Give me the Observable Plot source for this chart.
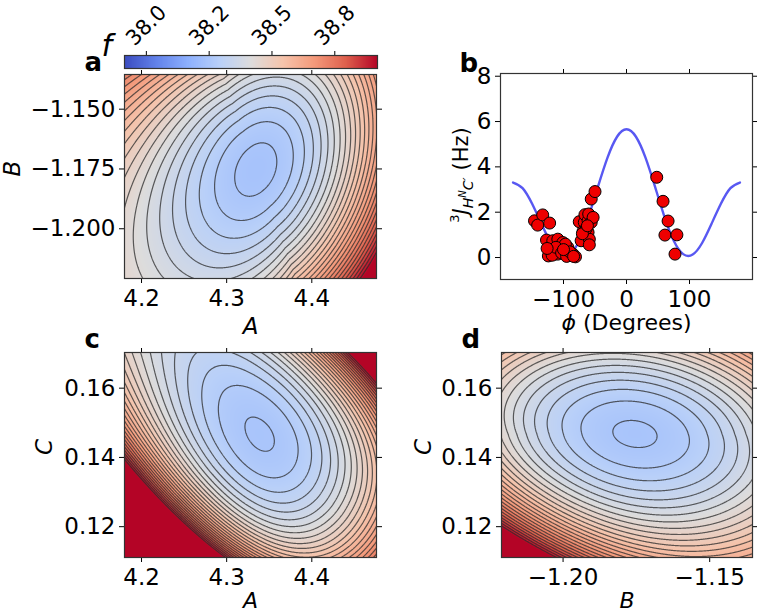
<!DOCTYPE html>
<html>
<head>
<meta charset="utf-8">
<script src="https://cdn.jsdelivr.net/npm/d3@7"></script>
<script src="https://cdn.jsdelivr.net/npm/@observablehq/plot@0.6"></script>
<style>
  body { margin: 0; background: #fff; }
  #fig { position: relative; width: 757px; height: 613px; font-family: "DejaVu Sans", sans-serif; }
  #fig svg { position: absolute; left: 0; top: 0; }
</style>
</head>
<body>
<div id="fig"></div>
<script>
// ---- objective scale f (shared colour bar) ----
const fRange = [37.913, 38.92];
const cbarTicks = [38.0, 38.25, 38.5, 38.75];
const cbarLabels = ["38.0", "38.2", "38.5", "38.8"];
const coolwarm = ["#3b4cc0", "#6282ea", "#8db0fe", "#b9d0f9", "#dddcdc", "#f5c4ac", "#f49a7b", "#de604d", "#b40426"];
const levelStep = 0.025;
const levels = d3.range(1, 41).map(k => 37.9 + k * levelStep);

// ---- Karplus parameter windows and ticks ----
const rangeA = [4.18, 4.476];
const rangeB = [-1.2208, -1.1355];
const rangeBd = [-1.221, -1.1354];
const rangeC = [0.1111, 0.1703];
const ticksA = [4.2, 4.3, 4.4];
const labelsA = ["4.2", "4.3", "4.4"];
const ticksB = [-1.2, -1.175, -1.15];
const labelsB = ["\u22121.200", "\u22121.175", "\u22121.150"];
const ticksBd = [-1.2, -1.15];
const labelsBd = ["\u22121.20", "\u22121.15"];
const ticksC = [0.12, 0.14, 0.16];
const labelsC = ["0.12", "0.14", "0.16"];

// ---- local shape of f on each two-parameter slice ----
// centre: [x at minimum, y at minimum, f at minimum]; span: unit lengths
// curv: [a, b, c] of a u^2 + 2 b u v + c v^2
// soft: damping direction; stiff: [dir u, dir v, strength -, strength +]; skew: [dir u, dir v, strength]
const centreAB = [4.335, -1.175, 38.239];
const spanAB = [0.148, 0.04265];
const curvAB = [18.3, -3.22, 7.27];
const softAB = [0.68, 0.2];
const stiffAB = [0.6, -0.8, 0, 0];
const skewAB = [1, 0, 0];

const centreAC = [4.339, 0.1466, 38.246];
const spanAC = [0.148, 0.0296];
const curvAC = [14.3, 4.2, 7.0];
const softAC = [0, 0];
const stiffAC = [0.707, 0.707, 10, 8];
const skewAC = [0.707, -0.707, 2.0];

const centreBC = [-1.1755, 0.1468, 38.245];
const spanBC = [0.04265, 0.0296];
const curvBC = [6.6, 1.5, 12];
const softBC = [0, 0.25];
const stiffBC = [0.6, 0.8, 3, 0];
const skewBC = [1, 0, 0];

// ---- 3J(HN,C') couplings against phi ----
const obsPhi = [-146, -141, -133, -122, -127, -124, -121, -117, -114, -109, -106, -101, -97, -93, -88, -97, -85, -81, -109, -118, -112, -103, -95, -90, -84, -126, -100,
  -75, -72, -69, -67, -66, -61, -61, -60, -59, -59, -56, -53, -56, -50, -64, -70, -62,
  48, 58, 66, 61, 80, 77];
const obsJ = [1.62, 1.43, 1.88, 1.52, 0.77, 0.07, 0.37, 0.74, 0.15, 0.81, 0.37, 0.66, 0.15, 0.44, 0.15, 0.59, 0.15, 0.03, 0.15, 0.1, 0.45, 0.2, 0.05, 0.25, 0.05, 0.4, 0.35,
  1.58, 0.74, 1.15, 1.55, 1.89, 1.62, 1.11, 1.92, 0.81, 0.56, 1.55, 1.77, 2.58, 2.91, 1.28, 1.05, 1.4,
  3.54, 2.48, 1.61, 0.99, 1.0, 0.15];
const curvePhi = [-180, -165, -150, -135, -120, -105, -90, -75, -60, -45, -30, -15, 0, 15, 30, 45, 60, 75, 90, 105, 120, 135, 150, 165, 180];
const curveJ = [3.31, 3.06, 2.38, 1.49, 0.64, 0.13, 0.15, 0.74, 1.82, 3.15, 4.42, 5.33, 5.66, 5.33, 4.42, 3.15, 1.82, 0.74, 0.15, 0.13, 0.64, 1.49, 2.38, 3.06, 3.31];
const ticksPhi = [-100, 0, 100];
const labelsPhi = ["\u2212100", "0", "100"];
const ticksJ = [0, 2, 4, 6, 8];

// ---------------------------------------------------------------
const W = 757, H = 613;
const fig = document.getElementById("fig");
const baseStyle = { fontFamily: "DejaVu Sans", fontSize: "23px", background: "transparent", overflow: "visible", color: "black" };
const colorScale = {
  type: "linear",
  domain: coolwarm.map((_, i) => fRange[0] + i * (fRange[1] - fRange[0]) / (coolwarm.length - 1)),
  range: coolwarm, interpolate: "rgb", clamp: true
};

function surface(centre, span, curv, soft, stiff, skew) {
  const [x0, y0, fmin] = centre;
  const [a, b, c] = curv;
  return (x, y) => {
    const u = (x - x0) / span[0], v = (y - y0) / span[1];
    const q = a * u * u + 2 * b * u * v + c * v * v;
    const damp = Math.exp(Math.min(soft[0] * u + soft[1] * v, 0));
    const w = stiff[0] * u + stiff[1] * v;
    const st = stiff[2] * Math.max(-w, 0) ** 4 + stiff[3] * Math.max(w, 0) ** 4;
    const sk = skew[2] * (skew[0] * u + skew[1] * v) ** 3;
    return fmin + levelStep * (q * damp + st + sk);
  };
}

function sampleGrid(fn, xd, yd, nx, ny) {
  const vals = new Array(nx * ny);
  for (let j = 0; j < ny; j++) {
    const y = yd[1] - (j + 0.5) * (yd[1] - yd[0]) / ny;
    for (let i = 0; i < nx; i++) {
      const x = xd[0] + (i + 0.5) * (xd[1] - xd[0]) / nx;
      vals[j * nx + i] = fn(x, y);
    }
  }
  return vals;
}

function fmt(ticks, labels) { return d => labels[ticks.indexOf(d)]; }

function frameAxes(xTicks, xLabels, yTicks, yLabels) {
  return [
    Plot.axisX(xTicks, { anchor: "bottom", tickSize: 5, tickPadding: 6, tickFormat: fmt(xTicks, xLabels), label: null }),
    Plot.axisX(xTicks, { anchor: "top", tickSize: 5, tickFormat: () => "", label: null }),
    Plot.axisY(yTicks, { anchor: "left", tickSize: 5, tickPadding: 4, tickFormat: fmt(yTicks, yLabels), label: null }),
    Plot.axisY(yTicks, { anchor: "right", tickSize: 5, tickFormat: () => "", label: null }),
    Plot.frame({ stroke: "#333", strokeWidth: 1.2 })
  ];
}

function title(str, opts) {
  return Plot.text([str], { text: d => d, lineAnchor: "middle", ...opts });
}

function contourPanel(p) {
  const plotW = W - p.margin[0] - p.margin[1];
  const plotH = H - p.margin[2] - p.margin[3];
  // sample a little past the frame so grid borders are clipped away
  const ex = (p.xd[1] - p.xd[0]) * 0.02, ey = (p.yd[1] - p.yd[0]) * 0.02;
  const xg = [p.xd[0] - ex, p.xd[1] + ex], yg = [p.yd[0] - ey, p.yd[1] + ey];
  const nx = Math.round(plotW * 2.08), ny = Math.round(plotH * 2.08);
  const vals = sampleGrid(p.fn, xg, yg, nx, ny);
  const grid = { width: nx, height: ny, x1: xg[0], x2: xg[1], y1: yg[1], y2: yg[0] };
  return Plot.plot({
    width: W, height: H,
    marginLeft: p.margin[0], marginRight: p.margin[1], marginTop: p.margin[2], marginBottom: p.margin[3],
    x: { domain: p.xd }, y: { domain: p.yd }, color: colorScale,
    style: baseStyle,
    marks: [
      Plot.raster(vals, { ...grid, fill: Plot.identity, clip: true }),
      Plot.contour(vals, { ...grid, value: Plot.identity, thresholds: levels, fill: "none", stroke: "#2b2b2b", strokeOpacity: 0.75, strokeWidth: 1.2, clip: true }),
      ...frameAxes(p.xTicks, p.xLabels, p.yTicks, p.yLabels),
      title(p.xTitle, { frameAnchor: "bottom", dy: p.xTitleDy, fontStyle: "italic", fontSize: p.xTitleSize }),
      title(p.yTitle, { frameAnchor: "left", dx: p.yTitleDx, rotate: -90, fontStyle: "italic", fontSize: 23 }),
      title(p.letter, { frameAnchor: "top-left", dx: -40, dy: p.letterDy, textAnchor: "start", fontWeight: "bold", fontSize: 26 })
    ]
  });
}

// panel a: A against B
fig.append(contourPanel({
  fn: surface(centreAB, spanAB, curvAB, softAB, stiffAB, skewAB),
  xd: rangeA, yd: rangeB, margin: [124, 381, 74, 335],
  xTicks: ticksA, xLabels: labelsA, yTicks: ticksB, yLabels: labelsB,
  xTitle: "A", yTitle: "B", xTitleDy: 48, xTitleSize: 23, yTitleDx: -112, letter: "a", letterDy: -12
}));

// colour bar for f
fig.append(Plot.plot({
  width: W, height: H, marginLeft: 124, marginRight: 380, marginTop: 55, marginBottom: 545,
  x: { domain: fRange }, y: { domain: [0, 1], axis: null }, color: colorScale,
  style: baseStyle,
  marks: [
    Plot.raster(d3.range(400).map(i => fRange[0] + (i + 0.5) * (fRange[1] - fRange[0]) / 400),
      { width: 400, height: 1, x1: fRange[0], x2: fRange[1], y1: 1, y2: 0, fill: Plot.identity }),
    Plot.axisX(cbarTicks, { anchor: "top", tickSize: 5, tickFormat: () => "", label: null }),
    Plot.text(cbarTicks, { x: d => d, text: (d, i) => cbarLabels[i], frameAnchor: "top", dy: -30, rotate: -45, textAnchor: "middle", lineAnchor: "middle", fontSize: 21 }),
    Plot.frame({ stroke: "#333", strokeWidth: 1.2 }),
    title("f", { frameAnchor: "left", dx: -23, dy: -16, textAnchor: "start", fontStyle: "italic", fontSize: 30 })
  ]
}));

// panel b: couplings and Karplus curve
const svgB = Plot.plot({
  width: W, height: H, marginLeft: 500, marginRight: 5, marginTop: 73, marginBottom: 334,
  x: { domain: [-200, 200] }, y: { domain: [-0.97, 8.12] },
  style: baseStyle,
  marks: [
    Plot.line(curvePhi, { x: curvePhi, y: curveJ, stroke: "#5858f2", strokeWidth: 2.4, curve: "natural" }),
    Plot.dot(obsPhi, { x: obsPhi, y: obsJ, r: 6, fill: "#ee0000", stroke: "#000", strokeWidth: 1 }),
    ...frameAxes(ticksPhi, labelsPhi, ticksJ, ticksJ.map(String)),
    title("b", { frameAnchor: "top-left", dx: -41, dy: -10, textAnchor: "start", fontWeight: "bold", fontSize: 26 })
  ]
});
fig.append(svgB);
{
  const g = d3.select(svgB);
  const yl = g.append("text")
    .attr("transform", "translate(468,175) rotate(-90)")
    .attr("text-anchor", "middle").attr("font-size", 21).attr("fill", "black");
  yl.append("tspan").attr("font-size", 13).attr("dy", -9).text("3");
  yl.append("tspan").attr("font-style", "italic").attr("dy", 9).text("J");
  yl.append("tspan").attr("font-style", "italic").attr("font-size", 14).attr("dy", 5).text("H");
  yl.append("tspan").attr("font-style", "italic").attr("font-size", 10).attr("dy", -7).text("N");
  yl.append("tspan").attr("font-style", "italic").attr("font-size", 14).attr("dy", 7).text("C\u2032");
  yl.append("tspan").attr("dy", -5).text(" (Hz)");
  const xl = g.append("text")
    .attr("x", 626.5).attr("y", 329.5)
    .attr("text-anchor", "middle").attr("font-size", 22).attr("fill", "black");
  xl.append("tspan").attr("font-style", "italic").text("\u03d5");
  xl.append("tspan").text(" (Degrees)");
}

// panel c: A against C
fig.append(contourPanel({
  fn: surface(centreAC, spanAC, curvAC, softAC, stiffAC, skewAC),
  xd: rangeA, yd: rangeC, margin: [124, 381, 352, 56],
  xTicks: ticksA, xLabels: labelsA, yTicks: ticksC, yLabels: labelsC,
  xTitle: "A", yTitle: "C", xTitleDy: 43.5, xTitleSize: 22, yTitleDx: -80, letter: "c", letterDy: -13
}));

// panel d: B against C
fig.append(contourPanel({
  fn: surface(centreBC, spanBC, curvBC, softBC, stiffBC, skewBC),
  xd: rangeBd, yd: rangeC, margin: [501, 5, 352, 56],
  xTicks: ticksBd, xLabels: labelsBd, yTicks: ticksC, yLabels: labelsC,
  xTitle: "B", yTitle: "C", xTitleDy: 43.5, xTitleSize: 22, yTitleDx: -78, letter: "d", letterDy: -13
}));
</script>
</body>
</html>
